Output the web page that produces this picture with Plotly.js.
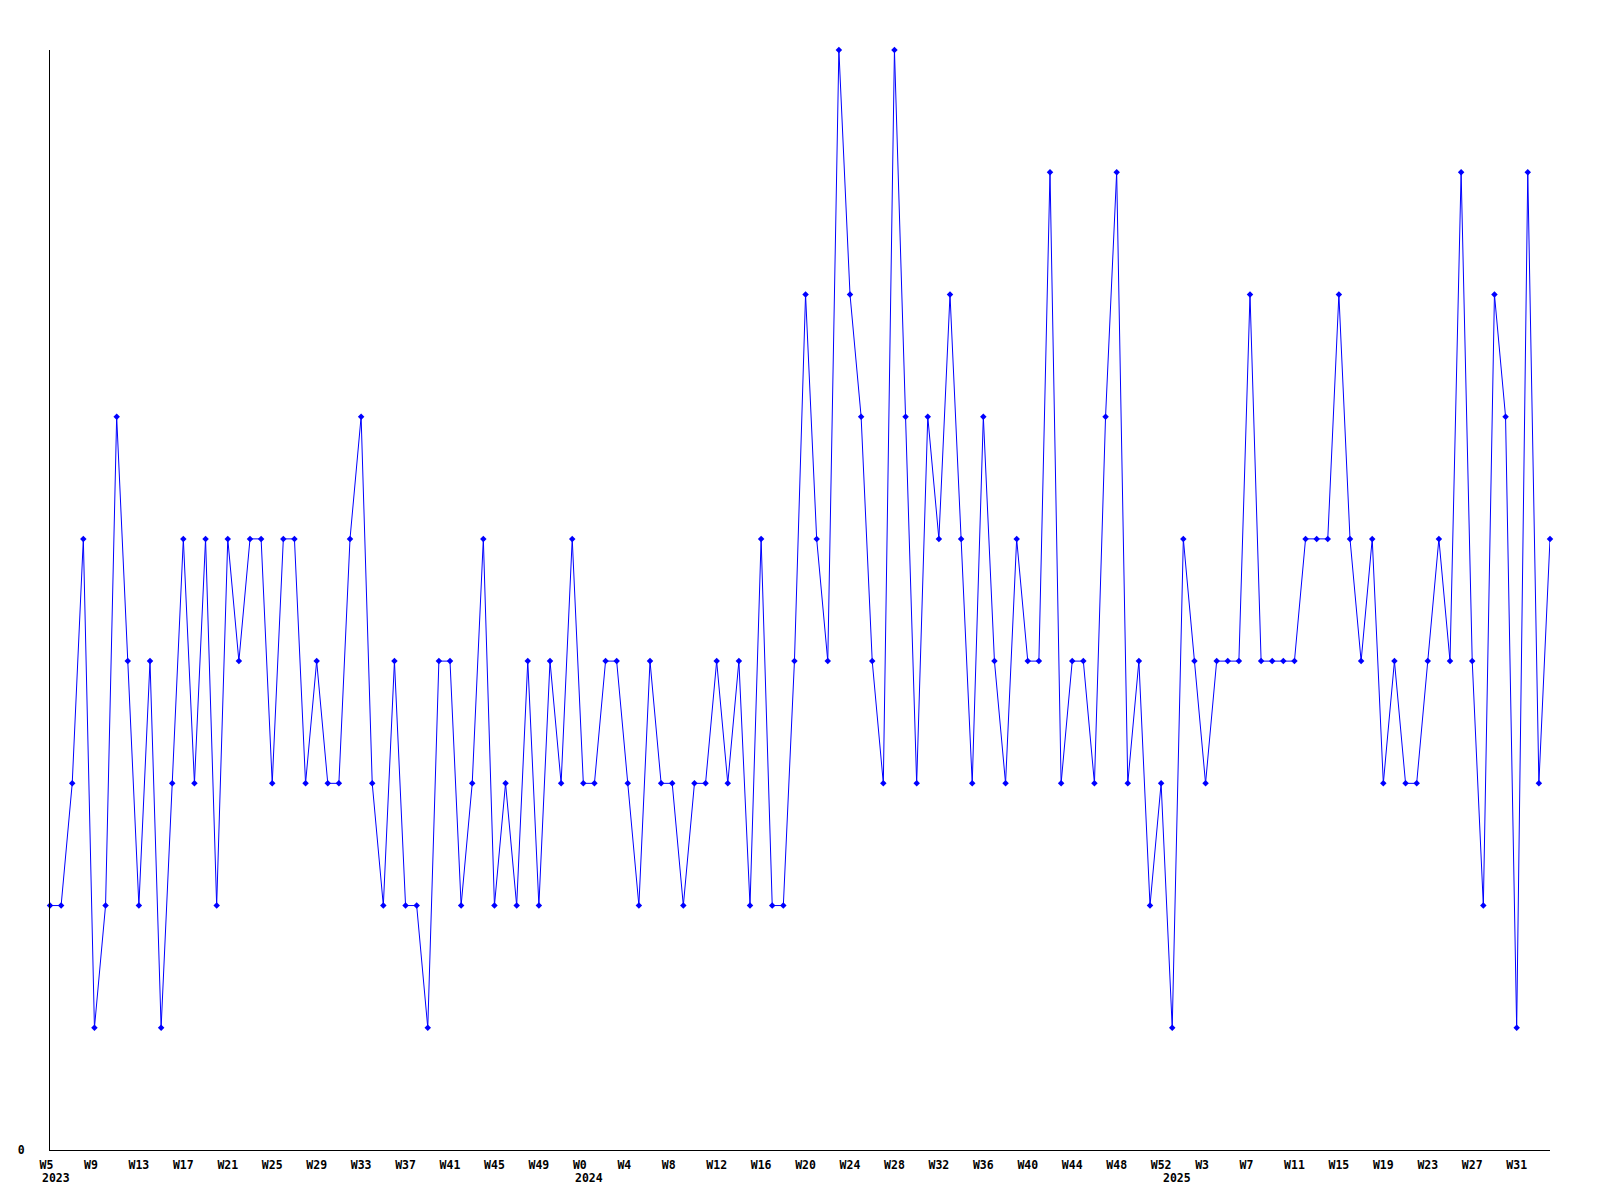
<!DOCTYPE html>
<html>
<head>
<meta charset="utf-8">
<script src="https://cdn.plot.ly/plotly-3.0.1.min.js"></script>
<style>html,body{margin:0;padding:0;background:#fff;}#chart{width:1600px;height:1200px;}</style>
</head>
<body>
<div id="chart"></div>
<script>
// weekly values, 2023 W5 ... 2025 W35
const values = [
  2,2,3,5,1,2,6,4,2,4,
  1,3,5,3,5,2,5,4,5,5,
  3,5,5,3,4,3,3,5,6,3,
  2,4,2,2,1,4,4,2,3,5,
  2,3,2,4,2,4,3,5,3,3,
  4,4,3,2,4,3,3,2,3,3,
  4,3,4,2,5,2,2,4,7,5,
  4,9,7,6,4,3,9,6,3,6,
  5,7,5,3,6,4,3,5,4,4,
  8,3,4,4,3,6,8,3,4,2,
  3,1,5,4,3,4,4,4,7,4,
  4,4,4,5,5,5,7,5,4,5,
  3,4,3,3,4,5,4,8,4,2,
  7,6,1,8,3,5
];
// tick labels, one every 4 weeks
const weekLabels = ["W5","W9","W13","W17","W21","W25","W29","W33","W37","W41","W45","W49",
  "W0","W4","W8","W12","W16","W20","W24","W28","W32","W36","W40","W44","W48","W52",
  "W3","W7","W11","W15","W19","W23","W27","W31"];
const yearLabels = ["2023","2024","2025"];
const yearWeekIndex = [0, 48, 100];

const x = values.map((_, i) => i);
const tickvals = weekLabels.map((_, i) => i * 4);
const ticktext = weekLabels.map(s => s.length < 3 ? s + "\u00a0" : s);

const font = {family: "DejaVu Sans Mono, Liberation Mono, monospace", size: 11.5, color: "#000"};

const data = [{
  type: "scatter",
  mode: "lines+markers",
  x: x,
  y: values,
  line: {color: "#0000ff", width: 1},
  marker: {symbol: "diamond", size: 5, color: "#0000ff", line: {width: 0}},
  hoverinfo: "none",
  cliponaxis: false
}];

const annotations = yearLabels.map((t, k) => ({
  text: "<b>" + t + "</b>",
  x: yearWeekIndex[k],
  xshift: k === 2 ? 0 : -10.5,
  xanchor: "left",
  xref: "x",
  y: 0,
  yref: "paper",
  yanchor: "top",
  yshift: -19,
  showarrow: false,
  font: font
}));

const layout = {
  width: 1600,
  height: 1200,
  margin: {l: 50, r: 50, t: 50, b: 50, pad: 0},
  paper_bgcolor: "#fff",
  plot_bgcolor: "#fff",
  showlegend: false,
  font: font,
  xaxis: {
    range: [0, values.length - 1],
    showgrid: false,
    zeroline: false,
    showline: true,
    linecolor: "#000",
    linewidth: 1,
    ticks: "",
    tickmode: "array",
    tickvals: tickvals,
    ticktext: ticktext.map(s => "<b>" + s + "</b>"),
    tickfont: font,
    ticklabelstandoff: 4
  },
  yaxis: {
    range: [0, 9],
    showgrid: false,
    zeroline: false,
    showline: true,
    linecolor: "#000",
    linewidth: 1,
    ticks: "",
    tickmode: "array",
    tickvals: [0],
    ticktext: ["<b>0</b>"],
    tickfont: font,
    ticklabelstandoff: 22
  },
  annotations: annotations
};

Plotly.newPlot("chart", data, layout, {staticPlot: true});
</script>
</body>
</html>
